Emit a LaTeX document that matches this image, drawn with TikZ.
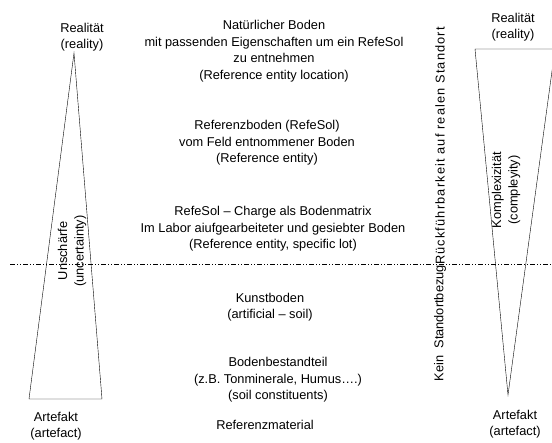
\documentclass[tikz,border=0pt]{standalone}
\usepackage{fontspec}
\setmainfont{Liberation Sans}
\newcommand{\lblsize}{\fontsize{12.8}{16.5}\selectfont}

\begin{document}
\begin{tikzpicture}[
  txt/.style={align=center, font=\lblsize, inner sep=0pt},
  vtxt/.style={txt, rotate=90},
  divline/.style={dash pattern=on 5pt off 2pt on 1pt off 2pt on 1pt off 2pt}]

  \useasboundingbox (0pt,0pt) rectangle (552pt,443pt);

  %% left wedge: reality -> artefact
  \draw (74pt,390pt) -- (102pt,44pt) -- (29pt,44pt) -- cycle;
  \node[txt] (realL) at (82pt,406pt) {Realität\\(reality)};
  \node[txt] (artL) at (56pt,17pt) {Artefakt\\(artefact)};
  \node[vtxt] (unsch) at (72pt,192pt) {Unschärfe\\(uncertainty)};

  %% right wedge
  \draw (475pt,394pt) -- (555pt,394pt) -- (508pt,48pt) -- cycle;
  \node[txt] (realR) at (513pt,416pt) {Realität\\(reality)};
  \node[txt] (artR) at (515pt,19pt) {Artefakt\\(artefact)};
  \node[vtxt] (kompl) at (506pt,253pt) {Komplexizität\\(compleyity)};

  \draw[divline] (10pt,179pt) -- (552pt,179pt);

  %% levels
  \node[txt] (natur) at (274pt,392pt)
    {Natürlicher Boden\\mit passenden Eigenschaften um ein RefeSol\\zu entnehmen\\(Reference entity location)};
  \node[txt] (refbod) at (267pt,300pt)
    {Referenzboden (RefeSol)\\vom Feld entnommener Boden\\(Reference entity)};
  \node[txt] (charge) at (273pt,214pt)
    {RefeSol -- Charge als Bodenmatrix\\Im Labor aiufgearbeiteter und gesiebter Boden\\(Reference entity, specific lot)};
  \node[txt] (kunst) at (270pt,136pt) {Kunstboden\\(artificial -- soil)};
  \node[txt] (bestand) at (278pt,63pt)
    {Bodenbestandteil\\(z.B. Tonminerale, Humus….)\\(soil constituents)};
  \node[txt] (refmat) at (265pt,18pt) {Referenzmaterial};

  %% vertical axis
  \node[vtxt, anchor=east] (kein) at (440pt,178pt) {Kein\ \ Standortbezug};
  \node[vtxt, anchor=west] (rueck) at (440pt,178pt)
    {\addfontfeature{LetterSpace=9}Rückführbarkeit auf realen Standort};

\end{tikzpicture}
\end{document}
